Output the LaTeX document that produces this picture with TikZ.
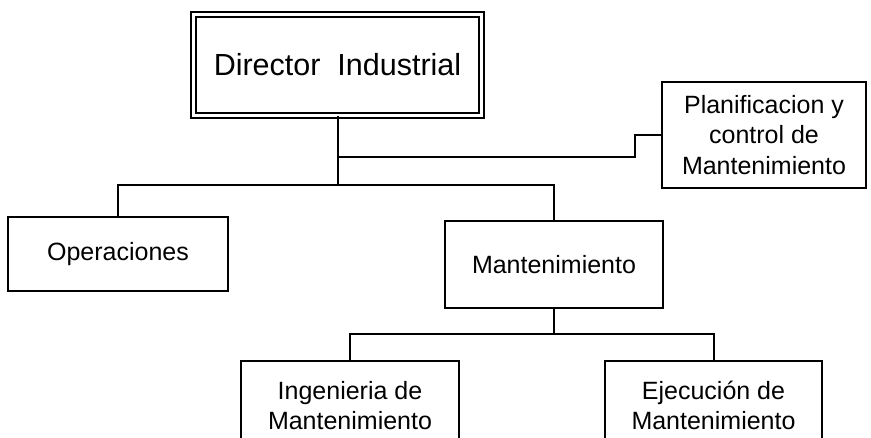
\documentclass[tikz,border=0pt]{standalone}
\usepackage{fontspec}
\setmainfont{Liberation Sans}
\begin{document}
\begin{tikzpicture}[x=1pt,y=-1pt,
  unit/.style={draw=black, line width=2pt, inner sep=0pt, align=center,
    font=\fontsize{25}{30.5}\selectfont},
  head/.style={draw=black, line width=1.8pt, double=white, double distance=3.2pt,
    inner sep=0pt, align=center, font=\fontsize{30.5}{36}\selectfont},
  link/.style={draw=black, line width=2pt}]
  \clip (0,0) rectangle (871,438);
  \fill[white] (0,0) rectangle (871,438);

  % boxes
  \node[head, minimum width=288pt, minimum height=101pt] (dir) at (337.5,65) {Director\ \ Industrial};
  \node[unit, minimum width=204pt, minimum height=106pt] (plan) at (764,135)
    {Planificacion y\\control de\\Mantenimiento};
  \node[unit, minimum width=220pt, minimum height=74pt] (oper) at (118,254) {Operaciones};
  \node[unit, minimum width=218pt, minimum height=87pt] (mant) at (554,264.5) {Mantenimiento};
  \node[unit, minimum width=218pt, minimum height=89pt] (ing) at (350,405.5)
    {Ingenieria de\\Mantenimiento};
  \node[unit, minimum width=217pt, minimum height=89pt] (ejec) at (713.5,405.5)
    {Ejecución de\\Mantenimiento};

  % junction points
  \coordinate (j1) at (337.5,157);
  \coordinate (j2) at (337.5,185);
  \coordinate (j3) at (635,157);
  \coordinate (j4) at (554,334);

  % connectors
  \draw[link] (dir.south) -- (j2);
  \draw[link] (j1) -- (j3) |- (plan.west);
  \draw[link] (oper.north) |- (j2) -| (mant.north);
  \draw[link] (mant.south) -- (j4);
  \draw[link] (ing.north) |- (j4) -| (ejec.north);
\end{tikzpicture}
\end{document}
